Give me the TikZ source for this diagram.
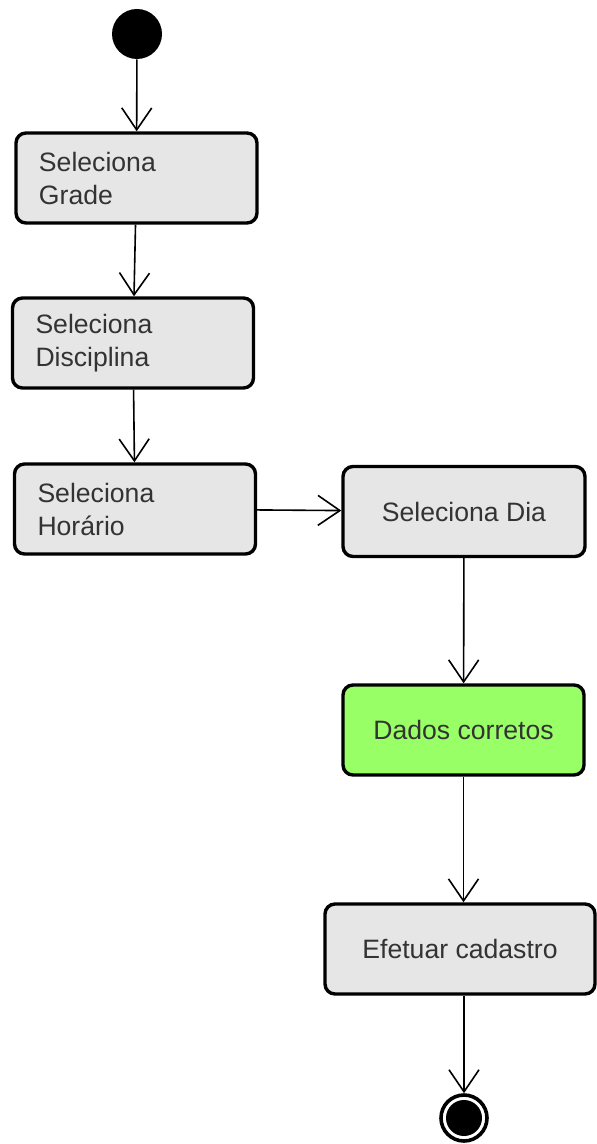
\documentclass[tikz,border=0pt]{standalone}
\usepackage{fontspec}
\setmainfont{Liberation Sans}
\usetikzlibrary{arrows.meta}
\definecolor{boxgray}{RGB}{230,230,230}
\definecolor{boxgreen}{RGB}{153,255,102}

\begin{document}
\begin{tikzpicture}[x=0.5pt, y=-0.5pt,
	act/.style={draw, line width=1.7pt, rounded corners=5pt, fill=boxgray, minimum height=45pt, inner xsep=11.5pt, font=\fontsize{13.3}{16.5}\selectfont, text=black!80},
	acttwo/.style={act, text width=97.5pt, align=left},
	flow/.style={line width=0.8pt, -{Straight Barb[length=11pt,width=15pt,line width=0.8pt]}}]
	\useasboundingbox (0,0) rectangle (596,1144);
	\node[circle, fill=black, minimum size=25pt, inner sep=0pt] (start) at (137, 34) {};
	\node[acttwo] (grade) at (136.5, 178) {Seleciona\\Grade};
	\node[acttwo] (disc) at (133, 343) {Seleciona\\Disciplina};
	\node[acttwo] (hor) at (135, 509) {Seleciona\\Horário};
	\node[act, minimum width=121pt] (dia) at (464, 511.5) {Seleciona Dia};
	\node[act, minimum width=120.5pt, fill=boxgreen] (dados) at (463.5, 730) {Dados corretos};
	\node[act, minimum width=135pt] (efet) at (460, 949) {Efetuar cadastro};
	\node[circle, draw, line width=1.8pt, fill=white, minimum size=23pt, inner sep=0pt,
		path picture={\fill[black] (path picture bounding box.center) circle (9pt);}] (end) at (464, 1118) {};
	\draw[flow] (start) -- (grade);
	\draw[flow] (grade) -- (disc);
	\draw[flow] (disc) -- (hor);
	\draw[flow] (hor) -- (dia);
	\draw[flow] (dia) -- (dados);
	\draw[flow] (dados.south) -- (dados.south |- efet.north);
	\draw[flow] (end.north |- efet.south) -- (end);
\end{tikzpicture}
\end{document}
